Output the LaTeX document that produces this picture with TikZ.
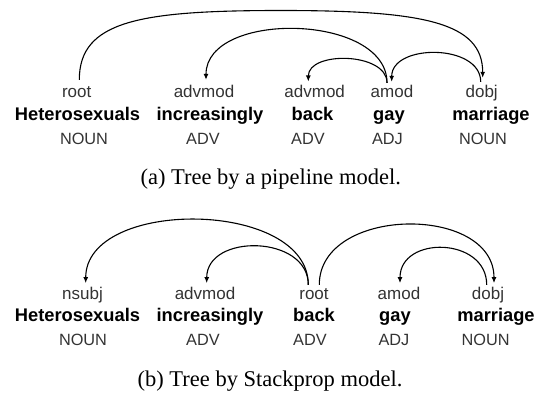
\documentclass[tikz,border=0pt]{standalone}
\usepackage{fontspec}
\setmainfont{Liberation Serif}
\newfontfamily\hv{Liberation Sans}
\usetikzlibrary{arrows.meta}
\tikzset{
  lab/.style={font=\hv\fontsize{17}{17}\selectfont, text=black!80, anchor=base, inner sep=0pt, text height=12.3pt, text depth=3.5pt},
  wrd/.style={font=\hv\bfseries\fontsize{18.3}{18}\selectfont, anchor=base, inner sep=0pt},
  tagx/.style={font=\hv\fontsize{16.3}{16}\selectfont, text=black!80, anchor=base, inner sep=0pt},
  capx/.style={font=\fontsize{22.5}{22}\selectfont, anchor=base, inner sep=0pt},
  dep/.style={line width=1.1pt, -{Latex[length=6pt,width=5pt]}}
}
\begin{document}
\begin{tikzpicture}[x=1pt,y=-1pt]
\useasboundingbox (0,0) rectangle (541,396);
% ---------- panel (a)
\node[lab] (la1) at (76.7,97.3) {root};
\node[lab] (la2) at (204,97.3) {advmod};
\node[lab] (la3) at (314.7,97.3) {advmod};
\node[lab] (la4) at (392,97.3) {amod};
\node[lab] (la5) at (481.7,97.3) {dobj};
\node[wrd] (wa1) at (77.5,120) {Heterosexuals};
\node[wrd] (wa2) at (210,120) {increasingly};
\node[wrd] (wa3) at (312.5,120) {back};
\node[wrd] (wa4) at (389,120) {gay};
\node[wrd] (wa5) at (491,120) {marriage};
\node[tagx] (ta1) at (84,144) {NOUN};
\node[tagx] (ta2) at (203,144) {ADV};
\node[tagx] (ta3) at (308,144) {ADV};
\node[tagx] (ta4) at (387.5,144) {ADJ};
\node[tagx] (ta5) at (483,144) {NOUN};
\node[capx] (capa) at (270.7,184) {(a) Tree by a pipeline model.};
\coordinate (a1top) at (281,10.5);
\draw[dep] ([xshift=2.6pt,yshift=5pt]la1.north) .. controls +(0,-59) and +(-141,0) .. (a1top)
  .. controls +(141,0) and +(0,-56) .. ([xshift=1pt,yshift=7pt]la5.north);
\draw[dep] ([xshift=-5pt,yshift=2pt]la4.north) .. controls +(0,-69.6) and +(0,-69.6) .. ([xshift=2pt,yshift=5pt]la2.north);
\draw[dep] ([xshift=-5pt,yshift=2pt]la4.north) .. controls +(0,-30.7) and +(0,-30.7) .. ([xshift=-6.4pt,yshift=3.3pt]la3.north);
\draw[dep] ([xshift=-1pt,yshift=3pt]la5.north) .. controls +(0,-38.3) and +(0,-38.3) .. ([xshift=-0.3pt,yshift=3pt]la4.north);
% ---------- panel (b)
\node[lab] (lb1) at (82.5,299.3) {nsubj};
\node[lab] (lb2) at (205,299.3) {advmod};
\node[lab] (lb3) at (314,299.3) {root};
\node[lab] (lb4) at (399,299.3) {amod};
\node[lab] (lb5) at (488,299.3) {dobj};
\node[wrd] (wb1) at (77.5,321.3) {Heterosexuals};
\node[wrd] (wb2) at (210,321.3) {increasingly};
\node[wrd] (wb3) at (314,321.3) {back};
\node[wrd] (wb4) at (395,321.3) {gay};
\node[wrd] (wb5) at (496,321.3) {marriage};
\node[tagx] (tb1) at (83,345.3) {NOUN};
\node[tagx] (tb2) at (203,345.3) {ADV};
\node[tagx] (tb3) at (310,345.3) {ADV};
\node[tagx] (tb4) at (394,345.3) {ADJ};
\node[tagx] (tb5) at (485.7,345.3) {NOUN};
\node[capx] (capb) at (270,386) {(b) Tree by Stackprop model.};
\draw[dep] ([xshift=-5.7pt,yshift=2pt]lb3.north) .. controls +(0,-85.6) and +(0,-85.6) .. ([xshift=3.2pt,yshift=3.7pt]lb1.north);
\draw[dep] ([xshift=-5.7pt,yshift=2pt]lb3.north) .. controls +(0,-50) and +(0,-50) .. ([xshift=1.7pt,yshift=3.7pt]lb2.north);
\draw[dep] ([xshift=5.3pt,yshift=2pt]lb3.north) .. controls +(0,-79) and +(0,-79) .. ([xshift=6pt,yshift=3.7pt]lb5.north);
\draw[dep] ([xshift=-1.3pt,yshift=2pt]lb5.north) .. controls +(0,-47.9) and +(0,-47.9) .. ([xshift=1pt,yshift=3.7pt]lb4.north);
\end{tikzpicture}
\end{document}
